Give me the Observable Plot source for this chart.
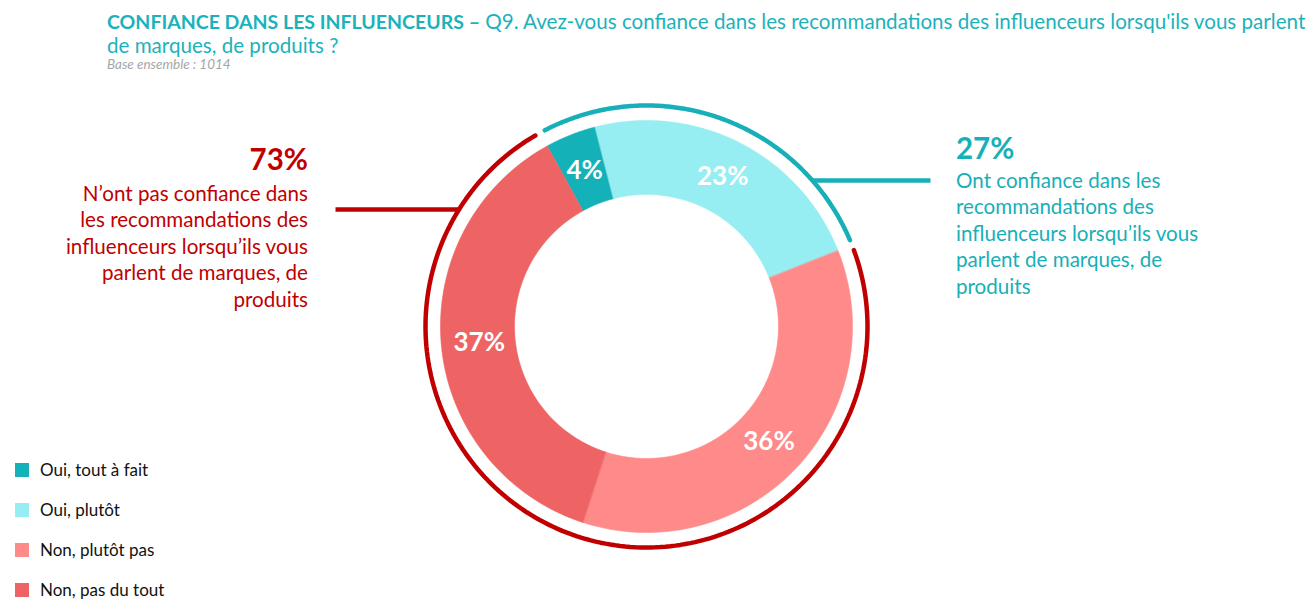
<!DOCTYPE html>
<html><head><meta charset="utf-8">
<script src="https://cdn.jsdelivr.net/npm/d3@7"></script>
<script src="https://cdn.jsdelivr.net/npm/@observablehq/plot@0.6"></script>
<style>
body{margin:0;background:#fff;font-family:Lato,"Noto Sans",sans-serif;}
#wrap{position:relative;width:1315px;height:611px;overflow:hidden;}
#chart{position:absolute;left:0;top:0;}
.abs{position:absolute;white-space:nowrap;}
#title{left:107px;top:10px;font-size:20.6px;line-height:22.6px;color:#1BB2BC;}
#title b{font-weight:700;font-size:19.5px;}
#base{left:107px;top:55.8px;font-size:13.5px;line-height:16px;color:#A6A6A6;font-style:italic;}
.big{font-size:29.5px;line-height:32px;font-weight:700;}
.body{font-size:20.6px;line-height:26.6px;}
.legrow{position:absolute;left:15px;height:20px;font-size:17px;line-height:20px;color:#111;}
.legrow span.sw{position:absolute;left:0;top:3.5px;width:14px;height:14px;}
.legrow span.lb{position:absolute;left:25px;top:0;white-space:nowrap;}
</style></head><body>
<div id="wrap">
  <div id="chart"></div>
  <div id="title" class="abs"></div>
  <div id="base" class="abs"></div>
  <div id="annR" class="abs"></div>
  <div id="annL" class="abs"></div>
  <div id="legend"></div>
</div>
<script>
// ---- data ----
const titleBold = "CONFIANCE DANS LES INFLUENCEURS –";
const titleLines = ["Q9. Avez-vous confiance dans les recommandations des influenceurs lorsqu'ils vous parlent", "de marques, de produits ?"];
const baseText = "Base ensemble : 1014";
const categories = ["Oui, tout à fait", "Oui, plutôt", "Non, plutôt pas", "Non, pas du tout"];
const values = [4, 23, 36, 37];
const colors = ["#14B1B8", "#97EEF2", "#FF8A8A", "#EE6363"];
const groups = ["Ont confiance", "N'ont pas confiance"];
const groupValues = [27, 73];
const groupColors = ["#17AFB8", "#C00000"];
const groupLines = [
  ["Ont confiance dans les", "recommandations des", "influenceurs lorsqu’ils vous", "parlent de marques, de", "produits"],
  ["N’ont pas confiance dans", "les recommandations des", "influenceurs lorsqu’ils vous", "parlent de marques, de", "produits"]
];

// ---- layout ----
const W = 1315, H = 611, CX = 646, CY = 326;
const R_OUT = 206, R_IN = 132, R_RING = 221, R_LABEL = 168;
const START = -0.08 * 2 * Math.PI;   // rotation of first slice
const PAD = 1.4 * Math.PI / 180;      // gap at ends of outer ring arcs
const connY = [146, 117];             // connector heights above center
const connEnd = [284, -311];          // connector outer x (relative to center)

const total = d3.sum(values);
const toXY = (r, a) => ({x: r * Math.sin(a), y: r * Math.cos(a)});
function arcPts(r, a0, a1, n = 80) {
  return d3.range(n + 1).map(i => toXY(r, a0 + (a1 - a0) * i / n));
}

// slices
let acc = 0;
const slices = categories.map((c, i) => {
  const a0 = START + acc / total * 2 * Math.PI;
  acc += values[i];
  const a1 = START + acc / total * 2 * Math.PI;
  return {cat: c, value: values[i], a0, a1};
});
const polys = slices.flatMap(s => [
  ...arcPts(R_OUT, s.a0, s.a1),
  ...arcPts(R_IN, s.a1, s.a0)
].map(p => ({...p, cat: s.cat})));
const labels = slices.map(s => ({...toXY(R_LABEL, (s.a0 + s.a1) / 2), text: s.value + "%"}));

// outer ring arcs
let gacc = 0;
const ringArcs = groups.map((g, i) => {
  const a0 = START + gacc / total * 2 * Math.PI + PAD;
  gacc += groupValues[i];
  const a1 = START + gacc / total * 2 * Math.PI - PAD;
  return arcPts(R_RING, a0, a1, 200);
});
const connectors = groups.map((g, i) => {
  const y = connY[i];
  const xa = Math.sqrt(R_RING * R_RING - y * y) * Math.sign(connEnd[i]);
  return {x1: xa, x2: connEnd[i], y1: y, y2: y};
});

const plot = Plot.plot({
  width: W, height: H, margin: 0,
  x: {domain: [-CX, W - CX], axis: null},
  y: {domain: [-(H - CY), CY], axis: null},
  color: {domain: categories, range: colors},
  style: {fontFamily: "Lato, 'Noto Sans', sans-serif", background: "transparent"},
  marks: [
    Plot.line(polys, {x: "x", y: "y", z: "cat", fill: "cat", stroke: "cat", strokeWidth: 0.6, curve: "linear-closed"}),
    ...ringArcs.map((pts, i) => Plot.line(pts, {x: "x", y: "y", stroke: groupColors[i], strokeWidth: 4.5})),
    ...connectors.map((c, i) => Plot.link([c], {x1: "x1", x2: "x2", y1: "y1", y2: "y2", stroke: groupColors[i], strokeWidth: 4.5})),
    Plot.text(labels, {x: "x", y: "y", text: "text", fill: "white", fontSize: 26, fontWeight: "bold"})
  ]
});
document.getElementById("chart").appendChild(plot);

// title
document.getElementById("title").innerHTML = "<b>" + titleBold + "</b> " + titleLines.join("<br>");
document.getElementById("base").textContent = baseText;

// annotations
const annR = document.getElementById("annR");
annR.style.left = "956px"; annR.style.top = "131.9px"; annR.style.color = groupColors[0];
annR.innerHTML = `<div class="big">${groupValues[0]}%</div><div class="body" style="margin-top:2.8px">${groupLines[0].join("<br>")}</div>`;
const annL = document.getElementById("annL");
annL.style.right = (W - 308) + "px"; annL.style.top = "143.3px"; annL.style.textAlign = "right"; annL.style.color = groupColors[1];
annL.innerHTML = `<div class="big">${groupValues[1]}%</div><div class="body" style="margin-top:4.4px">${groupLines[1].join("<br>")}</div>`;

// legend
const leg = document.getElementById("legend");
categories.forEach((c, i) => {
  const row = document.createElement("div");
  row.className = "legrow";
  row.style.top = (459.5 + i * 40) + "px";
  row.innerHTML = `<span class="sw" style="background:${colors[i]}"></span><span class="lb">${c}</span>`;
  leg.appendChild(row);
});
</script>
</body></html>
